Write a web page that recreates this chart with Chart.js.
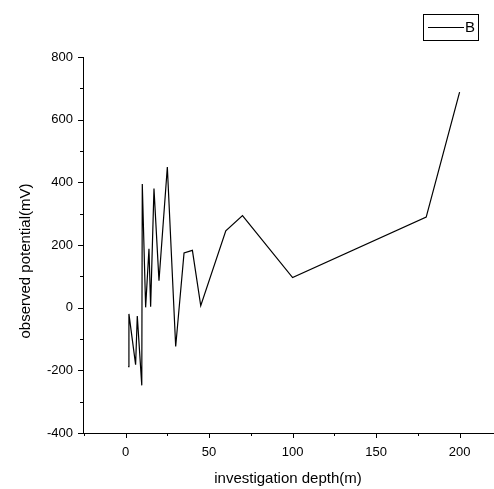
<!DOCTYPE html>
<html>
<head>
<meta charset="utf-8">
<script src="https://cdn.jsdelivr.net/npm/chart.js@4.4.0/dist/chart.umd.min.js"></script>
<style>
	html, body { margin: 0; padding: 0; background: #fff; }
</style>
</head>
<body>
<canvas id="myChart" width="494" height="489"></canvas>
<script>
const depths = [1.5, 2, 6, 7, 9.7, 10, 12, 14, 15, 17, 20, 25, 30, 35, 40, 45, 60, 70, 100, 180, 200];
const potentials = [-188, -20, -182, -27, -248, 395, 1, 188, 3, 380, 86, 449, -124, 175, 183, 6, 245, 294, 96, 289, 688];
const xTicks = [0, 50, 100, 150, 200];
const yTicks = [-400, -200, 0, 200, 400, 600, 800];
const seriesLabel = "B";

const font = "'Liberation Sans', Arial, sans-serif";

// minor ticks, y title and legend box drawn by hand
const extras = {
	id: "extras",
	afterDraw(chart) {
		const ctx = chart.ctx;
		const xs = chart.scales.x;
		const ys = chart.scales.y;
		const area = chart.chartArea;
		ctx.save();
		ctx.strokeStyle = "#000";
		ctx.lineWidth = 1;
		ctx.beginPath();
		xTicks.forEach((v) => {
			const px = Math.round(xs.getPixelForValue(v)) + 0.5;
			ctx.moveTo(px, area.bottom);
			ctx.lineTo(px, area.bottom + 5);
		});
		xTicks.concat([-50]).forEach((v) => {
			const px = Math.round(xs.getPixelForValue(v + 25)) + 0.5;
			if (px < area.left || px > area.right) return;
			ctx.moveTo(px, area.bottom);
			ctx.lineTo(px, area.bottom + 3);
		});
		yTicks.forEach((v, i) => {
			const py = Math.round(ys.getPixelForValue(v)) + 0.5;
			ctx.moveTo(area.left, py);
			ctx.lineTo(area.left - 5, py);
			if (i < yTicks.length - 1) {
				const pm = Math.round(ys.getPixelForValue(v + 100)) + 0.5;
				ctx.moveTo(area.left, pm);
				ctx.lineTo(area.left - 3, pm);
			}
		});
		ctx.stroke();

		ctx.fillStyle = "#000";
		ctx.font = "15px " + font;
		ctx.textAlign = "center";
		ctx.textBaseline = "middle";
		ctx.save();
		ctx.translate(26, 261);
		ctx.rotate(-Math.PI / 2);
		ctx.fillText("observed potential(mV)", 0, 0);
		ctx.restore();

		// legend
		ctx.strokeRect(423.5, 14.5, 55, 26);
		ctx.beginPath();
		ctx.moveTo(428, 27.5);
		ctx.lineTo(464, 27.5);
		ctx.stroke();
		ctx.textAlign = "left";
		ctx.fillText(chart.data.datasets[0].label, 465, 28);
		ctx.restore();
	},
};

const data = {
	datasets: [
		{
			label: seriesLabel,
			data: depths.map((d, i) => ({ x: d, y: potentials[i] })),
			borderColor: "#000",
			borderWidth: 1.2,
			pointRadius: 0,
			tension: 0,
			fill: false,
		},
	],
};

const config = {
	type: "line",
	data: data,
	options: {
		responsive: false,
		animation: false,
		layout: { padding: { top: 57, right: 1, left: 0, bottom: 0 } },
		plugins: { legend: false, tooltip: { enabled: false } },
		scales: {
			x: {
				type: "linear",
				min: -25.5,
				max: 220,
				afterFit: (s) => { s.height = 56; },
				afterBuildTicks: (s) => { s.ticks = xTicks.map((v) => ({ value: v })); },
				grid: { display: false, drawTicks: false },
				border: { display: true, color: "#000", width: 1 },
				ticks: { color: "#000", padding: 12, maxRotation: 0, font: { family: font, size: 13 } },
				title: {
					display: true,
					text: "investigation depth(m)",
					color: "#000",
					padding: { top: 0, bottom: 1 },
					font: { family: font, size: 15 },
				},
			},
			y: {
				type: "linear",
				min: -400,
				max: 800,
				afterFit: (s) => { s.width = 83; },
				afterBuildTicks: (s) => { s.ticks = yTicks.map((v) => ({ value: v })); },
				grid: { display: false, drawTicks: false },
				border: { display: true, color: "#000", width: 1 },
				ticks: { color: "#000", padding: 10, font: { family: font, size: 13 } },
			},
		},
	},
	plugins: [extras],
};

const myChart = new Chart(document.getElementById("myChart"), config);
</script>
</body>
</html>
